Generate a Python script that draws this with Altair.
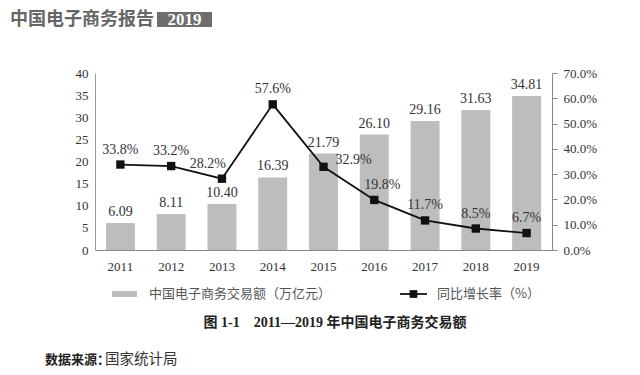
import altair as alt
import pandas as pd

years = ["2011", "2012", "2013", "2014", "2015", "2016", "2017", "2018", "2019"]
volume = [6.09, 8.11, 10.40, 16.39, 21.79, 26.10, 29.16, 31.63, 34.81]
growth = [33.8, 33.2, 28.2, 57.6, 32.9, 19.8, 11.7, 8.5, 6.7]
left_ticks = [0, 5, 10, 15, 20, 25, 30, 35, 40]
right_ticks = [0.0, 0.1, 0.2, 0.3, 0.4, 0.5, 0.6, 0.7]

header_text = "中国电子商务报告"
header_year = "2019"
legend_bar = "中国电子商务交易额（万亿元）"
legend_line = "同比增长率（%）"
caption = "图 1-1　2011—2019 年中国电子商务交易额"
source_head = "数据来源："
source_body = "国家统计局"

df = pd.DataFrame({
    "year": years,
    "volume": volume,
    "growth": [g / 100 for g in growth],
    "vol_label": [f"{v:.2f}" for v in volume],
    "g_label": [f"{g:.1f}%" for g in growth],
})

SERIF = "Liberation Serif"
CJK = "Noto Sans CJK SC"
MIX = "Liberation Serif, Noto Sans CJK SC"
TXT = "#333333"

x_enc = alt.X(
    "year:N", sort=years,
    scale=alt.Scale(paddingInner=0.43, paddingOuter=0.215),
    axis=alt.Axis(title=None, labelAngle=0, ticks=False, labelPadding=10,
                  domainColor="#888888", labelFont=SERIF, labelFontSize=13,
                  labelColor=TXT, grid=False),
)
y_left = alt.Y(
    "volume:Q", scale=alt.Scale(domain=[0, 40]),
    axis=alt.Axis(title=None, values=left_ticks, ticks=False, labelPadding=7,
                  domainColor="#999999", grid=False, labelFont=SERIF,
                  labelFontSize=13, labelColor=TXT),
)
y_right = alt.Y(
    "growth:Q", scale=alt.Scale(domain=[0, 0.7]),
    axis=alt.Axis(title=None, orient="right", values=right_ticks, format=".1%",
                  tickSize=5, tickColor="#888888", labelPadding=6,
                  domainColor="#888888", grid=False, labelFont=SERIF,
                  labelFontSize=13, labelColor=TXT),
)

base = alt.Chart(df)

bars = base.mark_bar(color="#bdbdbd").encode(x=x_enc, y=y_left)
bar_text = base.mark_text(baseline="bottom", dy=-4, font=SERIF, fontSize=14,
                          color=TXT).encode(x=x_enc, y=y_left, text="vol_label:N")
left = alt.layer(bars, bar_text)

line = base.mark_line(color="#111111", strokeWidth=1.8).encode(x=x_enc, y=y_right)
pts = base.mark_point(shape="square", filled=True, size=70, color="#111111",
                      opacity=1).encode(x=x_enc, y=y_right)
lbl_default = base.transform_filter(
    "datum.year != '2013' && datum.year != '2015' && datum.year != '2016'"
).mark_text(baseline="bottom", dy=-8, font=SERIF, fontSize=14, color=TXT).encode(
    x=x_enc, y=y_right, text="g_label:N")
lbl_2013 = base.transform_filter("datum.year == '2013'").mark_text(
    baseline="bottom", dy=-8, dx=-14, font=SERIF, fontSize=14, color=TXT).encode(
    x=x_enc, y=y_right, text="g_label:N")
lbl_2015 = base.transform_filter("datum.year == '2015'").mark_text(
    align="left", baseline="middle", dx=12, dy=-7, font=SERIF, fontSize=14,
    color=TXT).encode(x=x_enc, y=y_right, text="g_label:N")
lbl_2016 = base.transform_filter("datum.year == '2016'").mark_text(
    baseline="bottom", dy=-8, dx=8, font=SERIF, fontSize=14, color=TXT).encode(
    x=x_enc, y=y_right, text="g_label:N")
right = alt.layer(line, pts, lbl_default, lbl_2013, lbl_2015, lbl_2016)

deco = alt.Chart(pd.DataFrame({"k": [0]}))

title_txt = deco.mark_text(align="left", baseline="middle", font=CJK, fontSize=18,
                           fontWeight="bold", color="#666666").encode(
    x=alt.value(-85), y=alt.value(-53.5), text=alt.value(header_text))
title_box = deco.mark_rect(color="#6e6e6e").encode(
    x=alt.value(62), x2=alt.value(117), y=alt.value(-61), y2=alt.value(-46))
title_year = deco.mark_text(align="center", baseline="middle", font=SERIF,
                            fontSize=17, fontWeight="bold", color="white").encode(
    x=alt.value(89.5), y=alt.value(-53), text=alt.value(header_year))

leg_rect = deco.mark_rect(color="#bdbdbd").encode(
    x=alt.value(17), x2=alt.value(42), y=alt.value(218), y2=alt.value(224))
leg_text1 = deco.mark_text(align="left", baseline="middle", font=CJK, fontSize=13,
                           color="#555555").encode(
    x=alt.value(54), y=alt.value(221), text=alt.value(legend_bar))
leg_rule = deco.mark_rule(color="#111111", strokeWidth=1.8).encode(
    x=alt.value(305), x2=alt.value(332), y=alt.value(221))
leg_sq = deco.mark_point(shape="square", filled=True, size=60, color="#111111",
                         opacity=1).encode(x=alt.value(318.5), y=alt.value(221))
leg_text2 = deco.mark_text(align="left", baseline="middle", font=CJK, fontSize=13,
                           color="#555555").encode(
    x=alt.value(342), y=alt.value(221), text=alt.value(legend_line))

cap = deco.mark_text(align="center", baseline="middle", font=MIX, fontSize=14,
                     fontWeight="bold", color="#222222").encode(
    x=alt.value(240), y=alt.value(250), text=alt.value(caption))
src1 = deco.mark_text(align="left", baseline="middle", font=CJK, fontSize=13,
                      fontWeight="bold", color="#222222").encode(
    x=alt.value(-50), y=alt.value(287), text=alt.value(source_head))
src2 = deco.mark_text(align="left", baseline="middle", font=CJK, fontSize=14.5,
                      color="#333333").encode(
    x=alt.value(10), y=alt.value(287), text=alt.value(source_body))

chart = alt.layer(
    left, right, title_txt, title_box, title_year, leg_rect, leg_text1,
    leg_rule, leg_sq, leg_text2, cap, src1, src2,
).resolve_scale(y="independent").properties(
    width=457, height=177,
    autosize=alt.AutoSizeParams(type="none"),
    padding={"left": 95, "top": 73, "right": 88, "bottom": 125},
    background="white",
).configure_view(stroke=None)

chart.save("out.html", embed_options={"renderer": "svg", "actions": False})
